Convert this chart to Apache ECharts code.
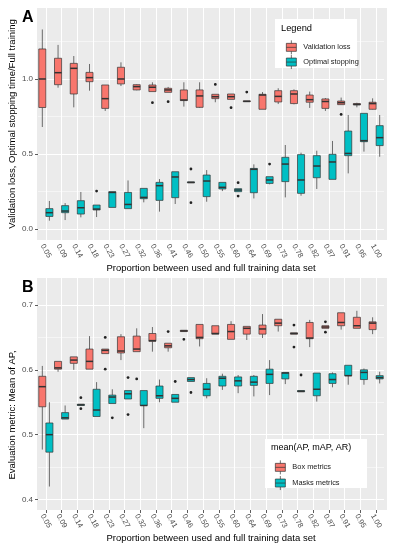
<!DOCTYPE html>
<html><head><meta charset="utf-8">
<script src="https://cdn.jsdelivr.net/npm/echarts@6/dist/echarts.min.js"></script>
<style>html,body{margin:0;padding:0;background:#fff}#c{width:393px;height:550px}</style>
</head><body><div id="c"></div>
<script>
const categories = ['0.05','0.09','0.14','0.18','0.23','0.27','0.32','0.36','0.41','0.46','0.50','0.55','0.60','0.64','0.69','0.73','0.78','0.82','0.87','0.91','0.95','1.00'];

// [lower whisker, Q1, median, Q3, upper whisker]
const validationLoss = [
 [0.68,0.81,1.00,1.20,1.33],[0.942,0.962,1.042,1.138,1.227],[0.811,0.90,1.071,1.104,1.153],[0.922,0.982,1.009,1.044,1.10],
 [0.787,0.804,0.869,0.96,0.96],[0.953,0.967,1.0,1.078,1.111],[0.925,0.927,0.949,0.962,0.965],[0.916,0.916,0.945,0.96,0.978],
 [0.911,0.911,0.927,0.938,0.947],[0.816,0.856,0.86,0.927,0.978],[0.807,0.811,0.887,0.927,0.978],[0.845,0.869,0.882,0.898,0.898],
 [0.864,0.864,0.882,0.90,0.90],[0.849,0.849,0.851,0.854,0.854],[0.798,0.798,0.893,0.898,0.913],[0.833,0.847,0.884,0.922,0.938],
 [0.831,0.836,0.90,0.922,0.931],[0.807,0.845,0.862,0.893,0.916],[0.787,0.804,0.85,0.867,0.873],[0.829,0.829,0.842,0.853,0.876],
 [0.811,0.827,0.831,0.836,0.842],[0.796,0.798,0.836,0.845,0.871]
];
const optimalStopping = [
 [0.056,0.084,0.109,0.136,0.187],[0.06,0.109,0.12,0.156,0.173],[0.078,0.10,0.142,0.189,0.247],[0.08,0.127,0.133,0.16,0.16],
 [0.144,0.144,0.244,0.249,0.249],[0.136,0.136,0.164,0.244,0.324],[0.178,0.202,0.211,0.271,0.271],[0.116,0.191,0.289,0.311,0.333],
 [0.167,0.209,0.347,0.382,0.382],[0.308,0.308,0.311,0.314,0.314],[0.182,0.216,0.32,0.36,0.393],[0.253,0.267,0.278,0.311,0.311],
 [0.249,0.249,0.26,0.269,0.269],[0.204,0.242,0.398,0.404,0.431],[0.298,0.304,0.327,0.349,0.349],[0.211,0.316,0.433,0.478,0.56],
 [0.222,0.238,0.327,0.496,0.509],[0.267,0.342,0.42,0.489,0.522],[0.331,0.331,0.447,0.498,0.587],[0.371,0.489,0.504,0.653,0.76],
 [0.516,0.582,0.589,0.771,0.771],[0.482,0.556,0.609,0.689,0.76]
];
const boxMetrics = [
 [0.477,0.543,0.574,0.590,0.606],[0.597,0.601,0.603,0.613,0.613],[0.60,0.610,0.615,0.620,0.620],[0.601,0.601,0.613,0.632,0.652],
 [0.625,0.625,0.630,0.632,0.632],[0.615,0.626,0.629,0.651,0.655],[0.628,0.628,0.632,0.652,0.664],[0.628,0.644,0.645,0.656,0.666],
 [0.628,0.634,0.637,0.641,0.641],[0.659,0.659,0.660,0.661,0.661],[0.636,0.648,0.650,0.670,0.670],[0.655,0.655,0.656,0.668,0.668],
 [0.647,0.647,0.659,0.670,0.675],[0.646,0.655,0.664,0.667,0.667],[0.649,0.655,0.663,0.669,0.686],[0.659,0.668,0.672,0.678,0.678],
 [0.655,0.655,0.656,0.657,0.657],[0.635,0.648,0.649,0.673,0.677],[0.664,0.664,0.666,0.668,0.668],[0.662,0.668,0.673,0.688,0.688],
 [0.664,0.664,0.668,0.681,0.691],[0.655,0.662,0.672,0.674,0.681]
];
const masksMetrics = [
 [0.420,0.473,0.500,0.518,0.550],[0.524,0.524,0.526,0.534,0.545],[0.545,0.545,0.546,0.547,0.547],[0.528,0.528,0.538,0.570,0.581],
 [0.548,0.548,0.558,0.561,0.570],[0.555,0.555,0.563,0.568,0.568],[0.510,0.545,0.545,0.568,0.568],[0.550,0.556,0.560,0.575,0.585],
 [0.550,0.550,0.556,0.562,0.562],[0.582,0.582,0.585,0.588,0.588],[0.556,0.560,0.570,0.579,0.587],[0.569,0.575,0.587,0.590,0.594],
 [0.564,0.575,0.583,0.589,0.592],[0.559,0.576,0.581,0.590,0.592],[0.561,0.579,0.593,0.601,0.615],[0.578,0.586,0.595,0.596,0.596],
 [0.566,0.566,0.567,0.568,0.568],[0.551,0.560,0.570,0.595,0.595],[0.573,0.579,0.585,0.594,0.596],[0.577,0.591,0.591,0.607,0.607],
 [0.577,0.585,0.596,0.600,0.602],[0.579,0.586,0.588,0.591,0.597]
];
// outliers: [category, value]
const validationLossOut = [['0.36',0.842],['0.41',0.849],['0.55',0.964],['0.60',0.809],['0.64',0.913],['0.91',0.764]];
const optimalStoppingOut = [['0.18',0.253],['0.46',0.40],['0.46',0.176],['0.60',0.309],['0.60',0.22],['0.69',0.433]];
const boxMetricsOut = [['0.23',0.650],['0.23',0.601],['0.32',0.586],['0.41',0.659],['0.46',0.647],['0.78',0.669],['0.78',0.635],['0.87',0.674],['0.87',0.658]];
const masksMetricsOut = [['0.14',0.557],['0.14',0.540],['0.23',0.526],['0.27',0.588],['0.27',0.531],['0.41',0.582],['0.46',0.565],['0.78',0.592]];

const ticksA = [0, 0.5, 1.0];
const minorA = [0.25, 0.75, 1.25];
const ticksB = [0.4, 0.5, 0.6, 0.7];
const minorB = [0.45, 0.55, 0.65];

const RED = '#F8766D', TEAL = '#00BFC4';
const FONT = 'Liberation Sans, Arial, sans-serif';

function boxRender(dx) {
  return function (params, api) {
    const i = api.value(0);
    const band = api.size([1, 0])[0];
    const w = band * 0.45;
    const pLo = api.coord([i, api.value(1)]);
    const pQ1 = api.coord([i, api.value(2)]);
    const pMd = api.coord([i, api.value(3)]);
    const pQ3 = api.coord([i, api.value(4)]);
    const pHi = api.coord([i, api.value(5)]);
    const cx = pLo[0] + dx * band;
    const ls = { stroke: '#333333', lineWidth: 0.7 };
    return { type: 'group', children: [
      { type: 'line', shape: { x1: cx, y1: pHi[1], x2: cx, y2: pQ3[1] }, style: ls },
      { type: 'line', shape: { x1: cx, y1: pQ1[1], x2: cx, y2: pLo[1] }, style: ls },
      { type: 'rect', shape: { x: cx - w / 2, y: pQ3[1], width: w, height: Math.max(pQ1[1] - pQ3[1], 0.5) },
        style: { fill: api.visual('color'), stroke: '#333333', lineWidth: 0.7 } },
      { type: 'line', shape: { x1: cx - w / 2, y1: pMd[1], x2: cx + w / 2, y2: pMd[1] }, style: { stroke: '#333333', lineWidth: 1.5 } }
    ]};
  };
}
function outRender(dx) {
  return function (params, api) {
    const p = api.coord([api.value(0), api.value(1)]);
    const band = api.size([1, 0])[0];
    return { type: 'circle', shape: { cx: p[0] + dx * band, cy: p[1], r: 1.4 }, style: { fill: '#222' } };
  };
}
function boxData(arr) { return arr.map((v, i) => [i].concat(v)); }
function outData(arr) { return arr.map(d => [categories.indexOf(d[0]), d[1]]); }

function gridLines(idx, major, minor) {
  const data = [];
  categories.forEach(c => data.push({ xAxis: c, lineStyle: { width: 1.1 } }));
  major.forEach(v => data.push({ yAxis: v, lineStyle: { width: 1.1 } }));
  minor.forEach(v => data.push({ yAxis: v, lineStyle: { width: 0.5 } }));
  return { type: 'line', xAxisIndex: idx, yAxisIndex: idx, data: [], z: 1, silent: true,
    markLine: { silent: true, symbol: ['none', 'none'], animation: false, z: 1, label: { show: false },
      lineStyle: { color: '#ffffff', type: 'solid' }, emphasis: { disabled: true }, data: data } };
}

function xAxisCfg(idx) {
  return { type: 'category', gridIndex: idx, data: categories, boundaryGap: true,
    axisLine: { show: false }, splitLine: { show: false },
    axisTick: { show: true, alignWithLabel: true, length: 3, lineStyle: { color: '#333333', width: 0.8 } },
    axisLabel: { interval: 0, rotate: -60, align: 'center', verticalAlign: 'middle', margin: 11, fontSize: 7.5, color: '#4D4D4D', fontFamily: FONT },
    name: 'Proportion between used and full training data set', nameLocation: 'middle', nameGap: 23,
    nameTextStyle: { fontSize: 9.5, color: '#000', fontFamily: FONT } };
}
function yAxisCfg(idx, min, max, ticks) {
  return { type: 'value', gridIndex: idx, min: min, max: max,
    axisLine: { show: false }, splitLine: { show: false },
    axisTick: { show: true, length: 3, customValues: ticks, lineStyle: { color: '#333333', width: 0.8 } },
    axisLabel: { customValues: ticks, formatter: v => v.toFixed(1), fontSize: 8, color: '#4D4D4D', margin: 5, fontFamily: FONT } };
}

const legendIcon = 'path://M5,0L5,3M0,3L10,3L10,11L0,11ZM0,7L10,7M5,11L5,14';

const chart = echarts.init(document.getElementById('c'), null, { renderer: 'canvas' });
chart.setOption({
  animation: false,
  backgroundColor: '#ffffff',
  textStyle: { fontFamily: FONT },
  grid: [
    { left: 38, right: 9, top: 8, height: 232 },
    { left: 38, right: 9, top: 278, height: 232 }
  ],
  xAxis: [xAxisCfg(0), xAxisCfg(1)],
  yAxis: [yAxisCfg(0, -0.073, 1.473, ticksA), yAxisCfg(1, 0.3838, 0.7416, ticksB)],
  legend: [
    { data: ['Validation loss', 'Optimal stopping'], orient: 'vertical', left: 281, top: 35, itemWidth: 14, itemHeight: 14, itemGap: 0,
      icon: legendIcon, itemStyle: { borderColor: '#333', borderWidth: 0.7 }, textStyle: { fontSize: 7.4, color: '#1a1a1a', fontFamily: FONT }, z: 5, selectedMode: false },
    { data: ['Box metrics', 'Masks metrics'], orient: 'vertical', left: 270, top: 455, itemWidth: 14, itemHeight: 14, itemGap: 1,
      icon: legendIcon, itemStyle: { borderColor: '#333', borderWidth: 0.7 }, textStyle: { fontSize: 7.4, color: '#1a1a1a', fontFamily: FONT }, z: 5, selectedMode: false }
  ],
  graphic: [
    { type: 'rect', z: -10, shape: { x: 37, y: 8, width: 350, height: 232 }, style: { fill: '#EBEBEB' }, silent: true },
    { type: 'rect', z: -10, shape: { x: 37, y: 278, width: 350, height: 232 }, style: { fill: '#EBEBEB' }, silent: true },
    { type: 'rect', z: 4, shape: { x: 275, y: 19, width: 82, height: 49 }, style: { fill: '#ffffff' }, silent: true },
    { type: 'rect', z: 4, shape: { x: 265, y: 439, width: 102, height: 49 }, style: { fill: '#ffffff' }, silent: true },
    { type: 'text', z: 5, x: 281, y: 28, style: { text: 'Legend', fontSize: 9.3, fill: '#000', fontFamily: FONT, verticalAlign: 'middle' } },
    { type: 'text', z: 5, x: 271, y: 448, style: { text: 'mean(AP, mAP, AR)', fontSize: 9, fill: '#000', fontFamily: FONT, verticalAlign: 'middle' } },
    { type: 'text', z: 5, x: 22, y: 18, style: { text: 'A', fontSize: 16, fontWeight: 'bold', fill: '#000', fontFamily: FONT, verticalAlign: 'middle' } },
    { type: 'text', z: 5, x: 22, y: 288, style: { text: 'B', fontSize: 16, fontWeight: 'bold', fill: '#000', fontFamily: FONT, verticalAlign: 'middle' } },
    { type: 'text', z: 5, x: 12, y: 124, rotation: Math.PI / 2, style: { text: 'Validation loss, Optimal stopping time/Full training', fontSize: 9.5, fill: '#000', fontFamily: FONT, align: 'center', verticalAlign: 'middle' } },
    { type: 'text', z: 5, x: 12, y: 415, rotation: Math.PI / 2, style: { text: 'Evaluation metric: Mean of AP,', fontSize: 9.5, fill: '#000', fontFamily: FONT, align: 'center', verticalAlign: 'middle' } }
  ],
  series: [
    gridLines(0, ticksA, minorA),
    gridLines(1, ticksB, minorB),
    { name: 'Validation loss', type: 'custom', xAxisIndex: 0, yAxisIndex: 0, z: 3, itemStyle: { color: RED }, renderItem: boxRender(-0.225), data: boxData(validationLoss), encode: { x: 0, y: [1, 2, 3, 4, 5] } },
    { name: 'Optimal stopping', type: 'custom', xAxisIndex: 0, yAxisIndex: 0, z: 3, itemStyle: { color: TEAL }, renderItem: boxRender(0.225), data: boxData(optimalStopping), encode: { x: 0, y: [1, 2, 3, 4, 5] } },
    { name: 'vl-out', type: 'custom', xAxisIndex: 0, yAxisIndex: 0, z: 4, renderItem: outRender(-0.225), data: outData(validationLossOut), encode: { x: 0, y: 1 } },
    { name: 'os-out', type: 'custom', xAxisIndex: 0, yAxisIndex: 0, z: 4, renderItem: outRender(0.225), data: outData(optimalStoppingOut), encode: { x: 0, y: 1 } },
    { name: 'Box metrics', type: 'custom', xAxisIndex: 1, yAxisIndex: 1, z: 3, itemStyle: { color: RED }, renderItem: boxRender(-0.225), data: boxData(boxMetrics), encode: { x: 0, y: [1, 2, 3, 4, 5] } },
    { name: 'Masks metrics', type: 'custom', xAxisIndex: 1, yAxisIndex: 1, z: 3, itemStyle: { color: TEAL }, renderItem: boxRender(0.225), data: boxData(masksMetrics), encode: { x: 0, y: [1, 2, 3, 4, 5] } },
    { name: 'bm-out', type: 'custom', xAxisIndex: 1, yAxisIndex: 1, z: 4, renderItem: outRender(-0.225), data: outData(boxMetricsOut), encode: { x: 0, y: 1 } },
    { name: 'mm-out', type: 'custom', xAxisIndex: 1, yAxisIndex: 1, z: 4, renderItem: outRender(0.225), data: outData(masksMetricsOut), encode: { x: 0, y: 1 } }
  ]
});
</script></body></html>
